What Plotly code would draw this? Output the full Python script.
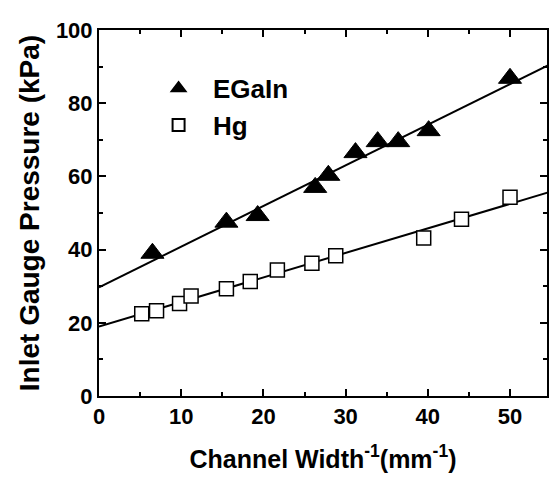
import plotly.graph_objects as go

egain_x = [6.5, 15.5, 19.3, 26.3, 27.9, 31.2, 33.9, 36.4, 40.1, 50.0]
egain_y = [39.0, 47.5, 49.3, 57.0, 60.3, 66.5, 69.5, 69.5, 72.5, 86.8]
hg_x = [5.2, 7.0, 9.8, 11.2, 15.5, 18.4, 21.7, 25.9, 28.8, 39.5, 44.1, 50.0]
hg_y = [22.5, 23.3, 25.3, 27.3, 29.3, 31.3, 34.4, 36.3, 38.3, 43.2, 48.3, 54.3]
# fitted lines: intercept, slope
egain_fit = [29.7, 1.11]
hg_fit = [19.0, 0.67]
line_x = [0, 55]

fig = go.Figure()
fig.add_trace(go.Scatter(x=line_x, y=[egain_fit[0] + egain_fit[1] * v for v in line_x],
                         mode="lines", line=dict(color="black", width=2), showlegend=False))
fig.add_trace(go.Scatter(x=line_x, y=[hg_fit[0] + hg_fit[1] * v for v in line_x],
                         mode="lines", line=dict(color="black", width=2), showlegend=False))
fig.add_trace(go.Scatter(x=egain_x, y=egain_y, mode="markers", name="  EGaIn",
                         marker=dict(symbol="triangle-up", size=20, color="black",
                                     line=dict(color="black", width=1))))
fig.add_trace(go.Scatter(x=hg_x, y=hg_y, mode="markers", name="  Hg",
                         marker=dict(symbol="square", size=14, color="white",
                                     line=dict(color="black", width=1.5))))

fam = "Liberation Sans, Arial, sans-serif"
axis_common = dict(showline=True, linecolor="black", linewidth=2, mirror="allticks",
                   ticks="inside", ticklen=7, tickwidth=2, tickcolor="black",
                   showgrid=False, zeroline=False,
                   tickfont=dict(size=22, family=fam, color="black", weight="bold"))
fig.update_xaxes(range=[0, 54.5], dtick=10, tick0=0,
                 minor=dict(ticks="inside", dtick=5, ticklen=4, tickwidth=2, tickcolor="black"),
                 title=dict(text="Channel Width<sup>-1</sup>(mm<sup>-1</sup>)",
                            font=dict(size=25, family=fam, color="black", weight="bold"),
                            standoff=22),
                 **axis_common)
fig.update_yaxes(range=[0, 100], dtick=20, tick0=0,
                 minor=dict(ticks="inside", dtick=10, ticklen=4, tickwidth=2, tickcolor="black"),
                 title=dict(text="Inlet Gauge Pressure (kPa)",
                            font=dict(size=28, family=fam, color="black", weight="bold"),
                            standoff=8),
                 **axis_common)
fig.update_layout(
    width=549, height=484,
    margin=dict(l=99, r=0, t=30, b=88),
    plot_bgcolor="white", paper_bgcolor="white",
    font=dict(size=20, family=fam, color="black"),
    legend=dict(x=0.133, y=0.905, xanchor="left", yanchor="top",
                bgcolor="rgba(0,0,0,0)",
                font=dict(size=26, family=fam, color="black", weight="bold"),
                itemsizing="constant", tracegroupgap=0),
)
fig.write_html("out.html", config={"displayModeBar": False},
               post_script="document.body.style.margin='0';")
